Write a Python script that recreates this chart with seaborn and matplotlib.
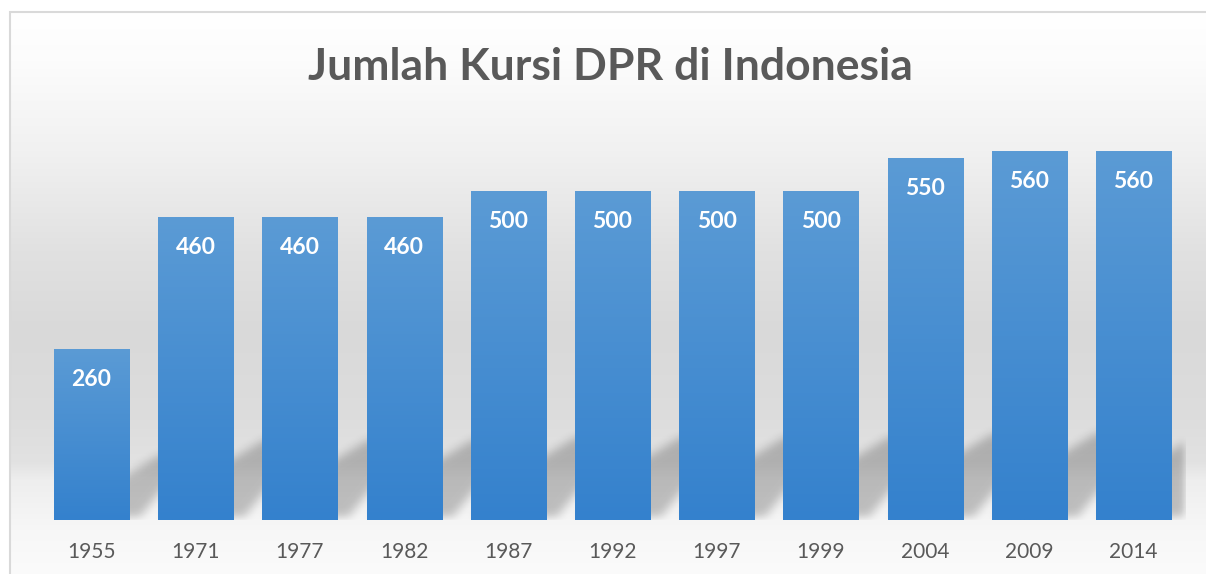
import numpy as np
import pandas as pd
import matplotlib
matplotlib.use("Agg")
import matplotlib.pyplot as plt
import seaborn as sns
from matplotlib.colors import to_rgb
from matplotlib.patches import Rectangle

# ---- data ----
years = ["1955", "1971", "1977", "1982", "1987", "1992", "1997", "1999", "2004", "2009", "2014"]
seats = [260, 460, 460, 460, 500, 500, 500, 500, 550, 560, 560]
title = "Jumlah Kursi DPR di Indonesia"

sns.set_theme(style="white")
plt.rcParams['font.family'] = ['Lato', 'DejaVu Sans']

W_PX, H_PX = 1206, 574
fig = plt.figure(figsize=(W_PX / 100, H_PX / 100), dpi=100)
fig.patch.set_facecolor("white")

# ---- background gradient ----
bg = fig.add_axes([0, 0, 1, 1], zorder=-5)
bg.set_axis_off()
stops_y = [0, 12, 60, 150, 250, 330, 420, 462, 480, 530, 574]
stops_v = [255, 255, 252, 241, 225, 217, 221, 226, 238, 247, 251]
yy = np.arange(H_PX)
vals = np.interp(yy, stops_y, stops_v) / 255.0
grad = np.repeat(vals[:, None], 2, axis=1)
img = np.dstack([grad, grad, grad])
img[:12, :, :] = 1.0
img2 = np.repeat(img, W_PX // 2, axis=1)
img2[:, :10, :] = 1.0
bg.imshow(img2, extent=(0, 1, 0, 1), aspect="auto", origin="upper",
          transform=bg.transAxes, interpolation="bilinear")
bg.set_xlim(0, 1); bg.set_ylim(0, 1)
fig.patches.append(Rectangle((10 / W_PX, -0.1), 1.2, 1 - 12 / H_PX + 0.1,
                             transform=fig.transFigure, fill=False,
                             edgecolor="#d9d9d9", linewidth=1.5, zorder=-1))

# ---- main axes ----
ax_left, ax_right = 39.5, 1185.5
ax_bottom, ax_top = 520, 125
ax = fig.add_axes([ax_left / W_PX, 1 - ax_bottom / H_PX,
                   (ax_right - ax_left) / W_PX, (ax_bottom - ax_top) / H_PX])
ax.patch.set_alpha(0)

df = pd.DataFrame({"year": years, "seats": seats})
bar_w = 0.72
sns.barplot(data=df, x="year", y="seats", ax=ax, width=bar_w,
            color="#4a8fd3", saturation=1, linewidth=0, edgecolor="none", zorder=3)

ymax = 600
ax.set_xlim(-0.5, len(years) - 0.5)
ax.set_ylim(0, ymax)

# ---- shadows (blurred skewed shapes) ----
Wp = int(ax_right - ax_left)
Hp = int(ax_bottom - ax_top)
ppu = Wp / len(years)
gap = ppu * (1 - bar_w)
xs = np.arange(Wp) + 0.5
ts = np.arange(Hp) + 0.5
X, T = np.meshgrid(xs, ts)
mask = np.zeros((Hp, Wp))
for i, v in enumerate(seats):
    L = (i + 0.5 - bar_w / 2) * ppu
    R = (i + 0.5 + bar_w / 2) * ppu
    h = 45 + 0.075 * v
    top = np.minimum(h + (X - R - gap) * 0.6, h)
    inside = ((T >= 3) & (T <= top) & (X >= L + T * 0.8) &
              (X <= R + 8 + T * 0.8))
    mask = np.maximum(mask, inside.astype(float))

def box_blur(a, r, axis):
    k = np.ones(2 * r + 1) / (2 * r + 1)
    return np.apply_along_axis(lambda m: np.convolve(m, k, mode="same"), axis, a)

for _ in range(3):
    mask = box_blur(mask, 4, 0)
    mask = box_blur(mask, 4, 1)
shadow = np.zeros((Hp, Wp, 4))
shadow[..., 3] = mask * 0.22
ax.imshow(shadow, extent=(-0.5, len(years) - 0.5, 0, ymax),
          origin="lower", aspect="auto", zorder=1, interpolation="bilinear")

# ---- bar gradients ----
top_c = np.array(to_rgb("#5B9BD5"))
bot_c = np.array(to_rgb("#3481CD"))
gy = np.linspace(0, 1, 256)[:, None]
gimg = (bot_c[None, :] * (1 - gy) + top_c[None, :] * gy)[:, None, :]
for p in ax.patches:
    x0, y0 = p.get_x(), p.get_y()
    w, h = p.get_width(), p.get_height()
    im = ax.imshow(gimg, extent=(x0, x0 + w, y0, y0 + h), origin="lower",
                   aspect="auto", zorder=4, interpolation="bilinear")
    im.set_clip_path(p)

ax.set_xlim(-0.5, len(years) - 0.5)
ax.set_ylim(0, ymax)

# ---- value labels ----
for i, v in enumerate(seats):
    ax.annotate(f"{v}", xy=(i, v), xytext=(0, -22), textcoords="offset points",
                ha="center", va="center", color="white", fontsize=16.5,
                fontweight="bold", zorder=6)

# ---- axes styling ----
for s in ax.spines.values():
    s.set_visible(False)
ax.set_yticks([])
ax.set_xlabel("")
ax.set_ylabel("")
ax.tick_params(axis="x", length=0, pad=16, labelsize=15, labelcolor="#595959")

fig.text(610 / W_PX, 1 - 80 / H_PX, title, ha="center", va="baseline",
         fontsize=32, fontweight="bold", color="#595959")

fig.savefig("out.png", dpi=100)
